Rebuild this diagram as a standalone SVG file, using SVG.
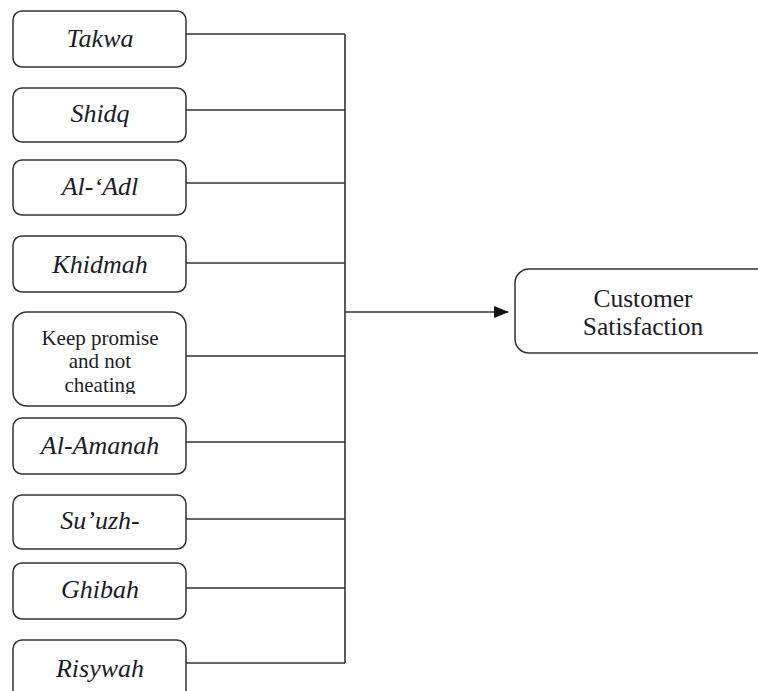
<svg xmlns="http://www.w3.org/2000/svg" width="758" height="691" viewBox="0 0 758 691">
<defs>
<style>
.box{fill:#fff;stroke:#333;stroke-width:1.5}
.lbl{font-family:"Liberation Serif","Times New Roman",serif;font-style:italic;font-size:26px;fill:#1c1c28;text-anchor:middle}
.plain{font-family:"Liberation Serif","Times New Roman",serif;font-size:21px;fill:#1c1c28;text-anchor:middle}
.big{font-family:"Liberation Serif","Times New Roman",serif;font-size:25.5px;fill:#1c1c28;text-anchor:middle}
.ln{stroke:#333;stroke-width:1.6;fill:none}
</style>
<marker id="arr" markerWidth="15" markerHeight="12" refX="14" refY="6" orient="auto" markerUnits="userSpaceOnUse">
<path d="M0,0 L15,6 L0,12 Z" fill="#111"/>
</marker>
<clipPath id="kc"><rect x="13" y="312" width="173" height="82"/></clipPath>
</defs>
<rect width="758" height="691" fill="#fff"/>
<g id="connectors">
<path class="ln" d="M186,34 H345 M186,110 H345 M186,183 H345 M186,263 H345 M186,356 H345 M186,442 H345 M186,519 H345 M186,588 H345 M186,663 H345 M345,34 V663"/>
<path class="ln" d="M345,312 H508" stroke-width="2" marker-end="url(#arr)"/>
</g>
<g id="takwa"><rect class="box" x="13" y="11" width="173" height="56" rx="9"/><text class="lbl" x="100" y="47">Takwa</text></g>
<g id="shidq"><rect class="box" x="13" y="88" width="173" height="54" rx="9"/><text class="lbl" x="100" y="122">Shidq</text></g>
<g id="aladl"><rect class="box" x="13" y="160" width="173" height="55" rx="9"/><text class="lbl" x="100" y="195">Al-‘Adl</text></g>
<g id="khidmah"><rect class="box" x="13" y="236" width="173" height="56" rx="9"/><text class="lbl" x="100" y="273">Khidmah</text></g>
<g id="keep"><rect class="box" x="13" y="312" width="173" height="94" rx="14"/>
<g clip-path="url(#kc)"><text class="plain" x="100" y="345">Keep promise</text><text class="plain" x="100" y="368">and not</text><text class="plain" x="100" y="392">cheating</text></g></g>
<g id="alamanah"><rect class="box" x="13" y="418" width="173" height="56" rx="9"/><text class="lbl" x="100" y="454">Al-Amanah</text></g>
<g id="suuzh"><rect class="box" x="13" y="495" width="173" height="54" rx="9"/><text class="lbl" x="100" y="529">Su’uzh-</text></g>
<g id="ghibah"><rect class="box" x="13" y="563" width="173" height="56" rx="9"/><text class="lbl" x="100" y="598">Ghibah</text></g>
<g id="risywah"><rect class="box" x="13" y="640" width="173" height="70" rx="9"/><text class="lbl" x="100" y="677">Risywah</text></g>
<g id="customer"><rect class="box" x="515" y="269" width="260" height="84" rx="14"/><text class="big" x="643" y="307">Customer</text><text class="big" x="643" y="335">Satisfaction</text></g>
</svg>
